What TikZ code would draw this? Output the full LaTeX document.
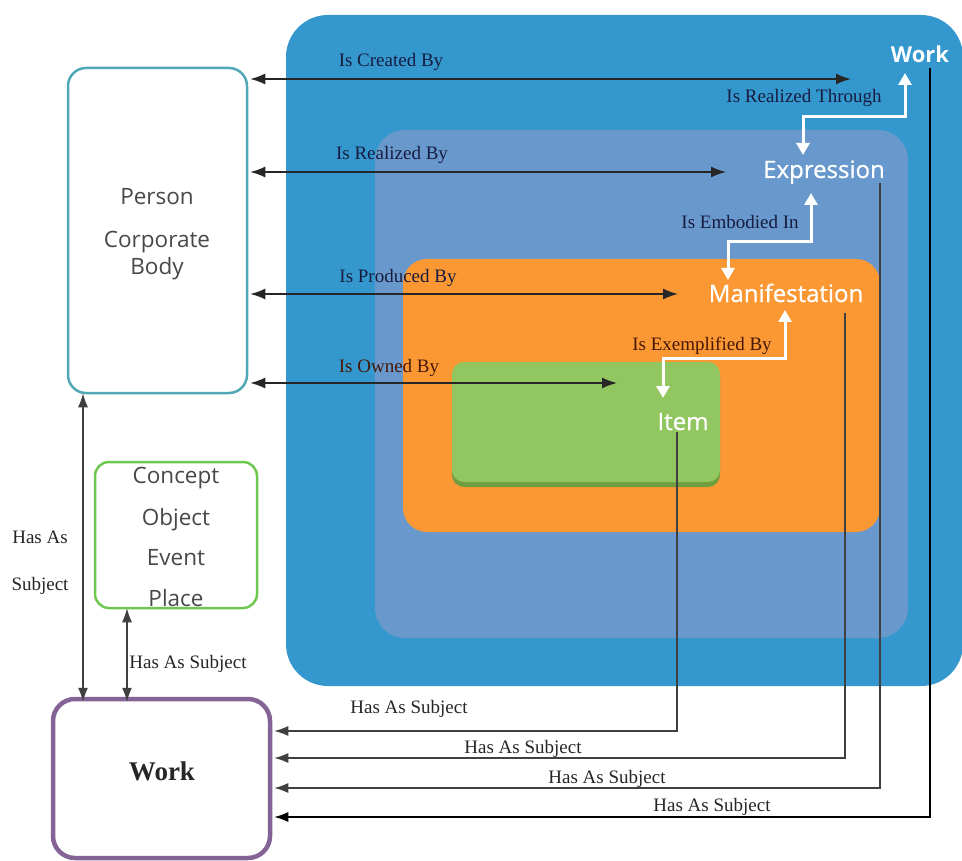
\documentclass[tikz,border=0pt]{standalone}
\usepackage{fontspec}
\setmainfont{Liberation Serif}
\newfontfamily\entfont{Open Sans}
\newfontfamily\entfontsb[FakeBold=0.8]{Open Sans}
\usetikzlibrary{arrows.meta}

\definecolor{outerblue}{RGB}{52,152,206}
\definecolor{midblue}{RGB}{104,152,204}
\definecolor{orangefill}{RGB}{252,152,52}
\definecolor{greenfill}{RGB}{146,198,96}
\definecolor{greenshadow}{RGB}{112,158,62}
\definecolor{tealedge}{RGB}{80,168,182}
\definecolor{limeedge}{RGB}{110,200,80}
\definecolor{purpleedge}{RGB}{132,100,150}
\definecolor{navytext}{RGB}{24,28,64}
\definecolor{browntext}{RGB}{70,24,8}
\definecolor{graytext}{RGB}{72,72,72}
\definecolor{linegray}{RGB}{64,64,64}

\begin{document}
\begin{tikzpicture}[x=1pt,y=-1pt,
  rel/.style={font=\fontsize{19}{21}\selectfont, text=navytext, inner sep=0pt, anchor=base},
  ent/.style={font=\entfontsb\fontsize{24}{26}\selectfont, text=white, inner sep=0pt, anchor=base},
  blk/.style={font=\entfont\fontsize{22.5}{25}\selectfont, text=graytext, inner sep=0pt, anchor=base},
  dbl/.style={{Latex[length=15pt,width=11pt]}-{Latex[length=15pt,width=11pt]}, line width=1.6pt, draw=black!85},
  side/.style={{Latex[length=14pt,width=10pt]}-{Latex[length=14pt,width=10pt]}, line width=1.3pt, draw=linegray},
  hasarr/.style={-{Latex[length=14pt,width=10pt]}, line width=1.4pt, draw=linegray},
  wht/.style={{Triangle[length=12pt,width=13pt]}-{Triangle[length=12pt,width=13pt]}, line width=3pt, draw=white, color=white},
  entbox/.style={draw, fill=white, inner sep=0pt}
]
\useasboundingbox (0,0) rectangle (962,861);
\clip (0,0) rectangle (962,861);
\fill[white] (0,0) rectangle (962,861);

% nested group shapes
\fill[outerblue, rounded corners=42pt] (286,15) rectangle (963,686);
\fill[midblue, rounded corners=30pt] (375,130) rectangle (908,638);
\fill[orangefill, rounded corners=24pt] (403,259) rectangle (880,532);
\fill[greenshadow, rounded corners=12pt] (452,364) rectangle (720,487);
\fill[greenfill, rounded corners=12pt] (452,362) rectangle (720,482);

% left entity boxes
\node[entbox, draw=tealedge, line width=2.5pt, rounded corners=18pt,
      minimum width=179pt, minimum height=325pt] (person) at (157.5,230.5) {};
\node[entbox, draw=limeedge, line width=2.5pt, rounded corners=14pt,
      minimum width=162pt, minimum height=146pt] (concept) at (176,535) {};
\node[entbox, draw=purpleedge, line width=4.5pt, rounded corners=22pt,
      minimum width=217pt, minimum height=159pt] (workbox) at (161.5,778.5) {};

\node[blk] (tperson) at (157,205) {Person};
\node[blk] (tcorp) at (157,248) {Corporate};
\node[blk] (tbody) at (157,275) {Body};

\node[blk] (tconcept) at (176,483) {Concept};
\node[blk] (tobject) at (176,525) {Object};
\node[blk] (tevent) at (176,565) {Event};
\node[blk] (tplace) at (176,606) {Place};

\node[font=\bfseries\fontsize{27}{29}\selectfont, text=black!85, inner sep=0pt, anchor=base] (twork) at (162,780) {Work};

% group entity labels
\node[ent, font=\entfont\bfseries\fontsize{22}{24}\selectfont] (work) at (920,63) {Work};
\node[ent] (expr) at (824,178) {Expression};
\node[ent] (manif) at (786,302) {Manifestation};
\node[ent] (item) at (683,430) {Item};

% relationship labels
\node[rel] (lcreated) at (391,67) {Is Created By};
\node[rel] (lrealized) at (392,160) {Is Realized By};
\node[rel] (lproduced) at (398,283) {Is Produced By};
\node[rel, text=browntext] (lowned) at (389,372) {Is Owned By};
\node[rel] (lthrough) at (804,103) {Is Realized Through};
\node[rel] (lembodied) at (740,229) {Is Embodied In};
\node[rel, text=browntext] (lexempl) at (702,350) {Is Exemplified By};

% free ends of the horizontal relations
\coordinate (ecreated) at (851,79);
\coordinate (erealized) at (726,172);
\coordinate (eproduced) at (678,294);
\coordinate (eowned) at (617,383);

\draw[dbl] ([xshift=2pt]person.east |- ecreated) -- (ecreated);
\draw[dbl] ([xshift=2pt]person.east |- erealized) -- (erealized);
\draw[dbl] ([xshift=2pt]person.east |- eproduced) -- (eproduced);
\draw[dbl] ([xshift=2pt]person.east |- eowned) -- (eowned);

% white entity-to-entity connectors
\coordinate (w1a) at (803,155); \coordinate (w1b) at (905,73);
\coordinate (w2a) at (728,280); \coordinate (w2b) at (811,193);
\coordinate (w3a) at (663,398); \coordinate (w3b) at (785,310);
\draw[wht] (w1a) -- (803,117) -- (905,117) -- (w1b);
\draw[wht] (w2a) -- (728,242) -- (811,242) -- (w2b);
\draw[wht] (w3a) -- (663,358) -- (785,358) -- (w3b);

% "Has As Subject" connectors to Work
\coordinate (sitem) at (677,432);
\coordinate (smanif) at (845,313);
\coordinate (sexpr) at (880,183);
\coordinate (swork) at (930,68);
\coordinate (y1) at (0,731);
\coordinate (y2) at (0,758);
\coordinate (y3) at (0,788);
\coordinate (y4) at (0,817);
\draw[hasarr] (sitem) |- ([xshift=2pt]workbox.east |- y1);
\draw[hasarr] (smanif) |- ([xshift=2pt]workbox.east |- y2);
\draw[hasarr] (sexpr) |- ([xshift=2pt]workbox.east |- y3);
\draw[hasarr, draw=black] (swork) |- ([xshift=2pt]workbox.east |- y4);

\node[rel, text=black!85] (h1) at (409,713) {Has As Subject};
\node[rel, text=black!85] (h2) at (523,753) {Has As Subject};
\node[rel, text=black!85] (h3) at (607,783) {Has As Subject};
\node[rel, text=black!85] (h4) at (712,811) {Has As Subject};

% left vertical connectors
\coordinate (xl) at (83,0);
\coordinate (xc) at (127,0);
\draw[side] ([yshift=1pt]person.south -| xl) -- ([yshift=-5pt]workbox.north -| xl);
\draw[side] ([yshift=1pt]concept.south -| xc) -- ([yshift=-5pt]workbox.north -| xc);

\node[rel, text=black!85] (hl1) at (40,543) {Has As};
\node[rel, text=black!85] (hl2) at (40,590) {Subject};
\node[rel, text=black!85] (hc) at (188,668) {Has As Subject};

\end{tikzpicture}
\end{document}
